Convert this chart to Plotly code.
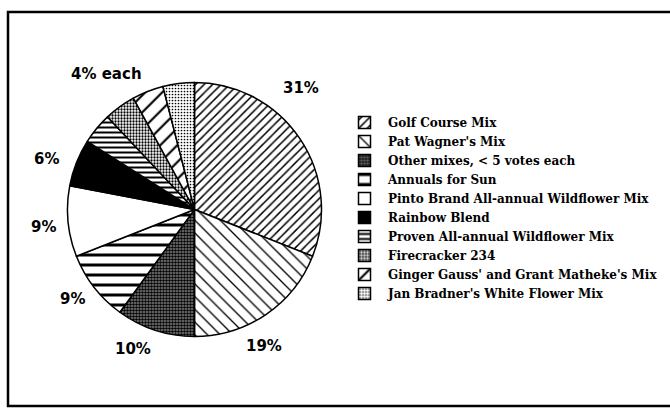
import plotly.graph_objects as go

categories = [
    "Golf Course Mix",
    "Pat Wagner's Mix",
    "Other mixes, < 5 votes each",
    "Annuals for Sun",
    "Pinto Brand All-annual Wildflower Mix",
    "Rainbow Blend",
    "Proven All-annual Wildflower Mix",
    "Firecracker 234",
    "Ginger Gauss' and Grant Matheke's Mix",
    "Jan Bradner's White Flower Mix",
]
values = [31, 19, 10, 9, 9, 6, 4, 4, 4, 4]

# slice label texts (the four 4% slices share one label)
label_texts = ["31%", "19%", "10%", "9%", "9%", "6%", "4% each"]

W, H = 670, 409

shapes_ = ["/", "\\", ".", "-", "", "", "-", ".", "/", "."]
sizes_ = [6, 9, 3, 10, 8, 8, 5, 3, 12, 3]
solid_ = [0.25, 0.15, 0.6, 0.3, 0.3, 0.3, 0.4, 0.45, 0.18, 0.25]
bg_ = ["white", "white", "#888888", "white", "white", "black", "white", "white", "white", "white"]
colors_ = ["white", "white", "#888888", "white", "white", "black", "white", "white", "white", "white"]

cx, cy, r = 194.5, 209.5, 127
fig = go.Figure(go.Pie(
    labels=categories,
    values=values,
    sort=False,
    direction="clockwise",
    rotation=0,
    textinfo="none",
    hoverinfo="label+percent",
    marker=dict(
        colors=colors_,
        line=dict(color="black", width=1.5),
        pattern=dict(shape=shapes_, size=sizes_, solidity=solid_,
                     fgcolor="black", bgcolor=bg_, fillmode="replace"),
    ),
    domain=dict(x=[(cx - r) / W, (cx + r) / W], y=[(H - cy - r) / H, (H - cy + r) / H]),
))

label_pos = [(301, 88), (264, 346), (133, 349), (72, 299), (43, 227), (46, 159), (106, 74)]
annotations = []
for t, (px, py) in zip(label_texts, label_pos):
    annotations.append(dict(
        text=t, x=px / W, y=1 - py / H, xref="paper", yref="paper",
        showarrow=False, xanchor="center", yanchor="middle",
        font=dict(family="DejaVu Sans", size=15, color="black", weight="bold"),
    ))

fig.update_layout(
    width=W, height=H,
    margin=dict(l=0, r=0, t=0, b=0, autoexpand=False),
    paper_bgcolor="white",
    plot_bgcolor="white",
    showlegend=True,
    legend=dict(
        x=341 / W, y=1 - 108 / H, xanchor="left", yanchor="top",
        font=dict(family="DejaVu Serif", size=12, color="black", weight="bold"),
        itemwidth=37, bgcolor="rgba(0,0,0,0)", traceorder="normal",
    ),
    annotations=annotations,
    shapes=[dict(type="rect", xref="paper", yref="paper",
                 x0=8 / W, x1=1.02, y0=1 - 406 / H, y1=1 - 12 / H,
                 line=dict(color="black", width=2.5))],
)

fig.write_html("out.html", config={"displayModeBar": False})

# remove the browser's default body margin so the figure sits at the window origin
with open("out.html", "r", encoding="utf-8") as f:
    html = f.read()
html = html.replace("<body>", "<body style=\"margin:0;padding:0;overflow:hidden\">", 1)
with open("out.html", "w", encoding="utf-8") as f:
    f.write(html)
